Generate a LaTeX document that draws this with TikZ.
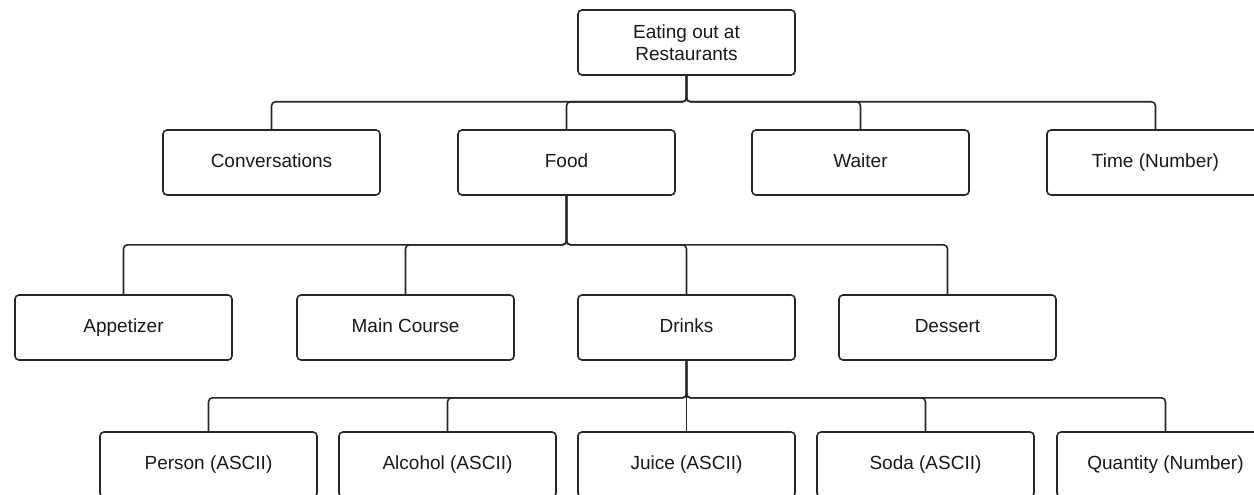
\documentclass[tikz,border=0pt]{standalone}
\usepackage{fontspec}
\setmainfont{Liberation Sans}
\begin{document}
\begin{tikzpicture}[x=1pt,y=-1pt,
  box/.style={draw=black!85,line width=1.6pt,rounded corners=4pt,minimum width=217pt,minimum height=65pt,inner sep=0pt,
    font=\fontsize{19}{22}\selectfont,align=center,text=black!90},
  leaf/.style={box,text height=14pt,text depth=4pt},
  conn/.style={draw=black!85,line width=1.6pt,rounded corners=4pt}]
\useasboundingbox (0,0) rectangle (1254,495);
\clip (0,0) rectangle (1254,495);
\node[box] (root) at (686.5,42.5) {Eating out at\\Restaurants};
\node[leaf] (conv) at (271.5,162.5) {Conversations};
\node[leaf] (food) at (566.5,162.5) {Food};
\node[leaf] (wait) at (860.5,162.5) {Waiter};
\node[leaf] (time) at (1155.5,162.5) {Time (Number)};
\node[leaf] (app) at (123.5,327.5) {Appetizer};
\node[leaf] (main) at (405.5,327.5) {Main Course};
\node[leaf] (drk) at (686.5,327.5) {Drinks};
\node[leaf] (des) at (947.5,327.5) {Dessert};
\node[leaf] (pers) at (208.5,464.5) {Person (ASCII)};
\node[leaf] (alc) at (447.5,464.5) {Alcohol (ASCII)};
\node[leaf] (juice) at (686.5,464.5) {Juice (ASCII)};
\node[leaf] (soda) at (925.5,464.5) {Soda (ASCII)};
\node[leaf] (qty) at (1165.5,464.5) {Quantity (Number)};
\foreach \c in {conv,food,wait,time}
  \draw[conn] (root.south) -- ([yshift=-26pt]root.south) -| (\c.north);
\foreach \c in {app,main,drk,des}
  \draw[conn] (food.south) -- ([yshift=-49pt]food.south) -| (\c.north);
\foreach \c in {pers,alc,soda,qty}
  \draw[conn] (drk.south) -- ([yshift=-37pt]drk.south) -| (\c.north);
\draw[conn] (drk.south) -- (juice.north);
\end{tikzpicture}
\end{document}
